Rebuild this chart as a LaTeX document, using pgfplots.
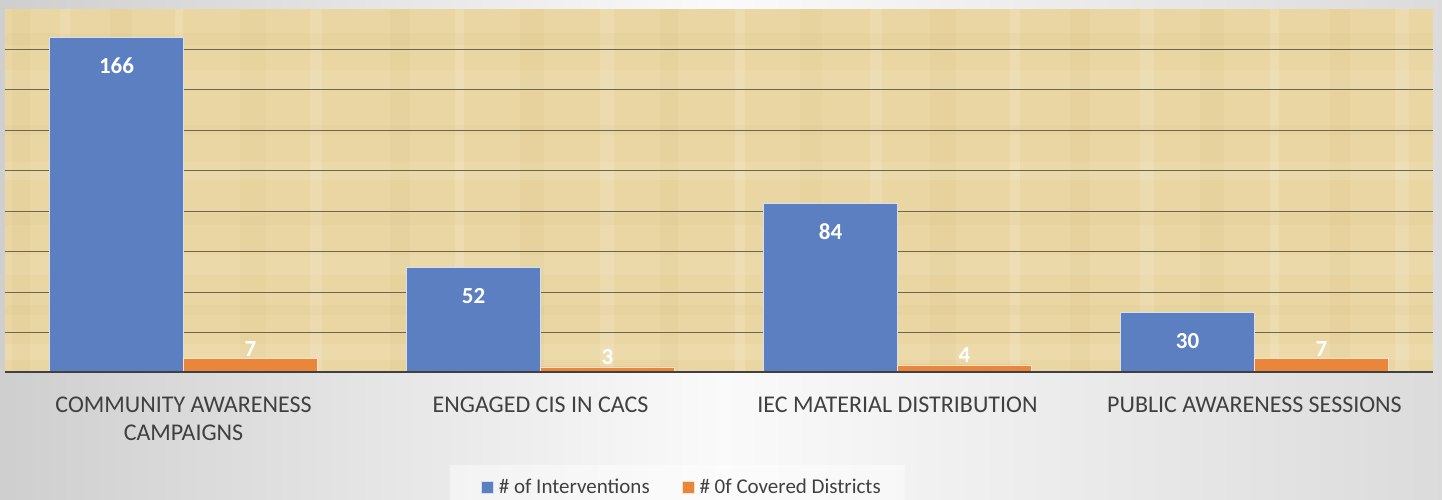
\documentclass[border=0pt]{standalone}
\usepackage{fontspec}
\setmainfont{Carlito}
\usepackage{pgfplots}
\pgfplotsset{compat=1.18}
\definecolor{barblue}{RGB}{91,127,192}
\definecolor{barorange}{RGB}{234,134,57}
\definecolor{papyrus}{RGB}{234,214,162}
\definecolor{papyrusdark}{RGB}{200,175,110}
\definecolor{gridc}{RGB}{110,102,82}
\definecolor{labc}{RGB}{64,64,64}
\begin{document}
\begin{tikzpicture}[x=1pt,y=1pt]
\useasboundingbox (0,0) rectangle (1442,500);
\fill[left color=gray!38, right color=gray!28, middle color=gray!4] (0,0) rectangle (1442,500);
\fill[white, opacity=0.45] (450,0) rectangle (905,35);
% papyrus-like background texture (decoration only)
\fill[papyrus] (5,127) rectangle (1433,491);
\begin{scope}
\clip (5,127) rectangle (1433,491);
\foreach \x/\w/\c/\o in {12/18/papyrusdark/0.09, 60/10/white/0.13, 110/22/papyrusdark/0.08,
  175/8/white/0.15, 240/26/papyrusdark/0.07, 310/12/white/0.14, 390/20/papyrusdark/0.09,
  455/9/white/0.15, 520/24/papyrusdark/0.08, 600/14/white/0.13, 660/18/papyrusdark/0.09,
  735/10/white/0.15, 800/22/papyrusdark/0.07, 870/12/white/0.14, 930/26/papyrusdark/0.08,
  1010/10/white/0.15, 1070/20/papyrusdark/0.08, 1140/14/white/0.13, 1200/24/papyrusdark/0.09,
  1270/9/white/0.15, 1330/20/papyrusdark/0.08, 1395/14/white/0.14}
  {\fill[\c, opacity=\o] (\x,127) rectangle ++(\w,364);}
\foreach \y/\h/\c/\o in {140/16/white/0.1, 185/10/papyrusdark/0.07, 225/20/white/0.08,
  275/12/papyrusdark/0.07, 320/18/white/0.09, 365/10/papyrusdark/0.07, 410/20/white/0.08,
  455/12/papyrusdark/0.07}
  {\fill[\c, opacity=\o] (5,\y) rectangle ++(1428,\h);}
\end{scope}
\begin{axis}[
  at={(5pt,127pt)}, anchor=south west,
  scale only axis, width=1428pt, height=364pt,
  xmin=-0.5, xmax=3.5, ymin=0, ymax=180,
  axis line style={draw=none},
  ytick={20,40,...,160}, yticklabels={},
  ymajorgrids, grid style={gridc, line width=0.9pt},
  major tick length=0pt,
  xtick={0,1,2,3},
  xticklabels={{COMMUNITY AWARENESS\\CAMPAIGNS},{ENGAGED CIS IN CACS},{IEC MATERIAL DISTRIBUTION},{PUBLIC AWARENESS SESSIONS}},
  xticklabel style={align=center, text=labc, font=\fontsize{24}{28}\selectfont, yshift=-20pt},
  ybar=0pt, bar width=134pt,
  legend columns=2,
  legend style={at={(0.474,-0.313)}, anchor=center, draw=none, fill=none,
    font=\fontsize{21}{24}\selectfont, text=labc,
    /tikz/every even column/.append style={column sep=30pt}},
  legend image code/.code={\fill[#1] (0pt,-6pt) rectangle (12pt,6pt); \path (15pt,0pt);},
]
\addplot[fill=barblue, draw=white!75!barblue, line width=0.8pt,
  nodes near coords,
  every node near coord/.append style={anchor=north, yshift=-17pt, text=white,
    font=\bfseries\fontsize{23}{23}\selectfont, /pgf/number format/assume math mode=true}]
  coordinates {(0,166) (1,52) (2,84) (3,30)};
\addplot[fill=barorange, draw=white!75!barorange, line width=0.8pt,
  nodes near coords,
  every node near coord/.append style={anchor=south, yshift=-1pt, text=white,
    font=\bfseries\fontsize{23}{23}\selectfont, /pgf/number format/assume math mode=true}]
  coordinates {(0,7) (1,3) (2,4) (3,7)};
\legend{\# of Interventions, \# 0f Covered Districts}
\draw[labc, line width=3pt] (rel axis cs:0,0) -- (rel axis cs:1,0);
\end{axis}
\end{tikzpicture}
\end{document}
